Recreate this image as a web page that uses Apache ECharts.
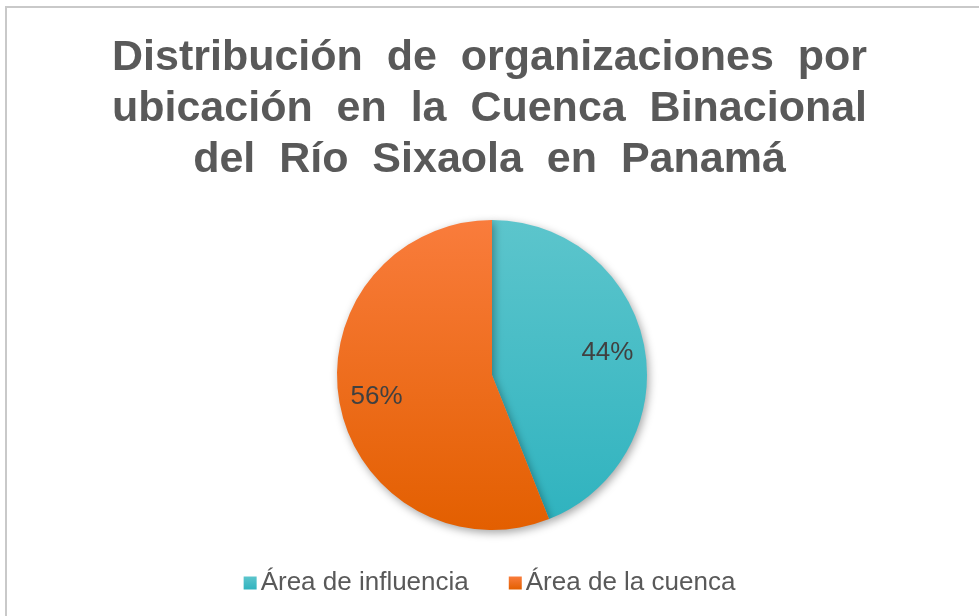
<!DOCTYPE html>
<html>
<head>
<meta charset="utf-8">
<script src="https://cdn.jsdelivr.net/npm/echarts@6/dist/echarts.min.js"></script>
<style>
  html, body { margin: 0; padding: 0; background: #fff; }
  #frame { position: absolute; left: 5px; top: 6px; width: 990px; height: 640px; border: 2px solid #c9c9c9; box-sizing: border-box; }
  #chart { position: absolute; left: 0; top: 0; width: 979px; height: 616px; }
</style>
</head>
<body>
<div id="frame"></div>
<div id="chart"></div>
<script>
  var categories = ['Área de influencia', 'Área de la cuenca']
  var values = [44, 56]
  var colorsTop = ['#5CC5CC', '#F97C3C']
  var colorsBottom = ['#30B3BF', '#E35F00']

  var chart = echarts.init(document.getElementById('chart'))

  var pieData = categories.map(function (name, i) {
    return {
      name: name,
      value: values[i],
      itemStyle: {
        color: new echarts.graphic.LinearGradient(0, 0, 0, 1, [
          { offset: 0, color: colorsTop[i] },
          { offset: 1, color: colorsBottom[i] }
        ])
      }
    }
  })

  var labelData = categories.map(function (name, i) {
    return { name: name, value: values[i] }
  })

  chart.setOption({
    animation: false,
    title: {
      text: 'Distribución  de  organizaciones  por\nubicación  en  la  Cuenca  Binacional\ndel  Río  Sixaola  en  Panamá',
      left: 'center',
      top: 28,
      textStyle: {
        fontFamily: 'Liberation Sans, Arial, sans-serif',
        fontSize: 43,
        fontWeight: 'bold',
        color: '#595959',
        lineHeight: 51,
        align: 'center'
      }
    },
    legend: {
      data: categories,
      bottom: 15,
      left: 'center',
      icon: 'rect',
      itemWidth: 13,
      itemHeight: 13,
      itemGap: 40,
      textStyle: {
        fontFamily: 'Liberation Sans, Arial, sans-serif',
        fontSize: 26,
        color: '#595959',
        padding: [0, 0, 0, -1]
      }
    },
    series: [{
      type: 'pie',
      center: [492, 375],
      radius: [0, 155],
      startAngle: 90,
      clockwise: true,
      label: { show: false },
      labelLine: { show: false },
      emphasis: { disabled: true },
      itemStyle: {
        shadowColor: 'rgba(0,0,0,0.35)',
        shadowBlur: 8,
        shadowOffsetX: 2,
        shadowOffsetY: 3
      },
      data: pieData
    }, {
      type: 'pie',
      center: [492, 375],
      radius: [74, 155],
      startAngle: 90,
      clockwise: true,
      silent: true,
      legendHoverLink: false,
      itemStyle: { color: 'rgba(0,0,0,0)' },
      label: {
        show: true,
        position: 'inside',
        formatter: '{d}%',
        fontFamily: 'Liberation Sans, Arial, sans-serif',
        fontSize: 26,
        color: '#404040'
      },
      labelLine: { show: false },
      data: labelData
    }]
  })
</script>
</body>
</html>
